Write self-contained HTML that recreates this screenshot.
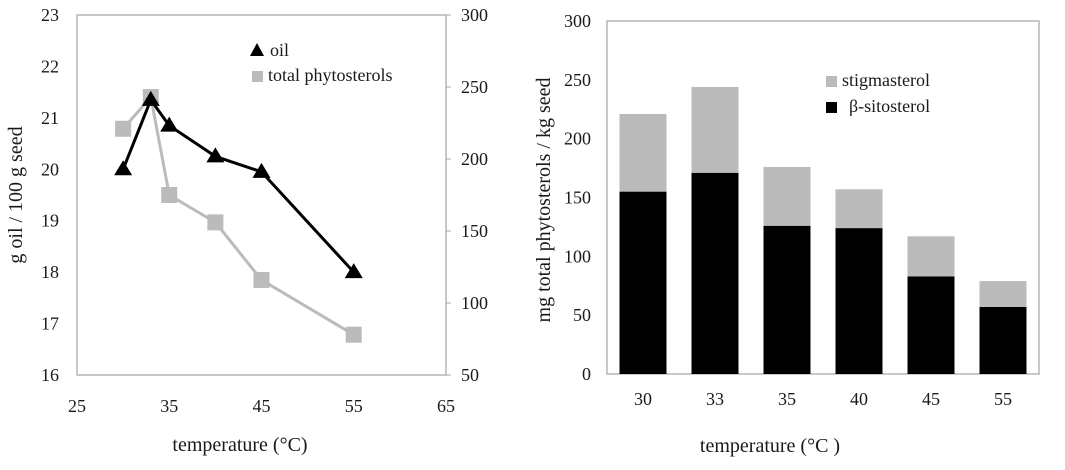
<!DOCTYPE html>
<html><head><meta charset="utf-8"><style>
body{margin:0;background:#fff;}
svg text{font-family:"Liberation Serif",serif;fill:#1a1a1a;}
</style></head><body>
<svg id="c" width="1065" height="465" viewBox="0 0 1065 465"></svg>
<script>
const lineTemps=[30,33,35,40,45,55];
const oilValues=[20,21.35,20.85,20.25,19.95,18];
const sterolValues=[221,243,175,156,116,78];
const leftXTicks=[25,35,45,55,65];
const leftYTicks=[16,17,18,19,20,21,22,23];
const rightYTicks=[50,100,150,200,250,300];
const barCats=['30','33','35','40','45','55'];
const sitoValues=[155,171,126,124,83,57];
const stigValues=[66,73,50,33,34,22];
const barYTicks=[0,50,100,150,200,250,300];

const svg=document.getElementById('c');
const NS='http://www.w3.org/2000/svg';
function mk(tag,attrs,name,parent){const e=document.createElementNS(NS,tag);for(const k in attrs)e.setAttribute(k,attrs[k]);


(parent||svg).appendChild(e);return e;}
function txt(x,y,s,name,anchor,size,extra){const t=mk('text',Object.assign({x:x,y:y,'text-anchor':anchor||'middle','font-size':size||18},extra||{}),name);t.textContent=s;return t;}

// Left chart
const L={x0:77,x1:446,y0:15,y1:375};
const lx=v=>L.x0+(v-25)/(65-25)*(L.x1-L.x0);
const ly=v=>L.y1-(v-16)/(23-16)*(L.y1-L.y0);
const ry=v=>L.y1-(v-50)/(300-50)*(L.y1-L.y0);
mk('rect',{x:L.x0,y:L.y0,width:L.x1-L.x0,height:L.y1-L.y0,fill:'none',stroke:'#aaa','stroke-width':1.3},'left-plot-frame');
leftXTicks.forEach(v=>txt(lx(v),412,v,'left-x-tick'));
leftYTicks.forEach(v=>txt(59,ly(v)+6,v,'left-y-tick','end'));
rightYTicks.forEach(v=>{mk('line',{x1:L.x1,x2:L.x1+5,y1:ry(v),y2:ry(v),stroke:'#aaa'},'right-y-tickmark');txt(461,ry(v)+6,v,'right-y-tick','start');});
txt(240,451,'temperature (°C)','left-x-axis-title','middle',20);
txt(0,0,'g oil / 100 g seed','left-y-axis-title','middle',20,{transform:'translate(22,195) rotate(-90)'});
mk('polyline',{points:lineTemps.map((t,i)=>lx(t)+','+ry(sterolValues[i])).join(' '),fill:'none',stroke:'#bbb','stroke-width':3,'stroke-linejoin':'round'},'sterol-line');
lineTemps.forEach((t,i)=>mk('rect',{x:lx(t)-8,y:ry(sterolValues[i])-8,width:16,height:16,fill:'#bbb'},'sterol-point'));
mk('polyline',{points:lineTemps.map((t,i)=>lx(t)+','+ly(oilValues[i])).join(' '),fill:'none',stroke:'#000','stroke-width':3,'stroke-linejoin':'round'},'oil-line');
lineTemps.forEach((t,i)=>{const x=lx(t),y=ly(oilValues[i]);mk('polygon',{points:`${x},${y-9} ${x-9},${y+6} ${x+9},${y+6}`,fill:'#000'},'oil-point');});
mk('polygon',{points:'257,43 250,56 264,56',fill:'#000'},'legend-oil-marker');
txt(270,56,'oil','legend-oil-label','start',18);
mk('rect',{x:252,y:71,width:11,height:11,fill:'#bbb'},'legend-sterol-marker');
txt(268,81,'total phytosterols','legend-sterol-label','start',18);

// Right chart
const R={x0:607,x1:1039,y0:21,y1:374};
const by=v=>R.y1-v/300*(R.y1-R.y0);
const band=(R.x1-R.x0)/barCats.length, bw=47;
mk('rect',{x:R.x0,y:R.y0,width:R.x1-R.x0,height:R.y1-R.y0,fill:'none',stroke:'#aaa','stroke-width':1.3},'right-plot-frame');
barYTicks.forEach(v=>txt(591,by(v)+6,v,'bar-y-tick','end'));
barCats.forEach((c,i)=>{const cx=R.x0+band*(i+0.5);
 mk('rect',{x:cx-bw/2,y:by(sitoValues[i]),width:bw,height:by(0)-by(sitoValues[i]),fill:'#000'},'bar-sitosterol');
 mk('rect',{x:cx-bw/2,y:by(sitoValues[i]+stigValues[i]),width:bw,height:by(sitoValues[i])-by(sitoValues[i]+stigValues[i]),fill:'#bbb'},'bar-stigmasterol');
 txt(cx,405,c,'bar-x-tick');});
txt(770,452,'temperature (°C )','bar-x-axis-title','middle',20);
txt(0,0,'mg  total phytosterols / kg seed','bar-y-axis-title','middle',20,{transform:'translate(550,200) rotate(-90)'});
mk('rect',{x:826,y:76,width:11,height:11,fill:'#bbb'},'legend-stigmasterol-marker');
txt(842,86,'stigmasterol','legend-stigmasterol-label','start',18);
mk('rect',{x:826,y:102,width:11,height:11,fill:'#000'},'legend-sitosterol-marker');
txt(849,112,'β-sitosterol','legend-sitosterol-label','start',18);
</script>
</body></html>
